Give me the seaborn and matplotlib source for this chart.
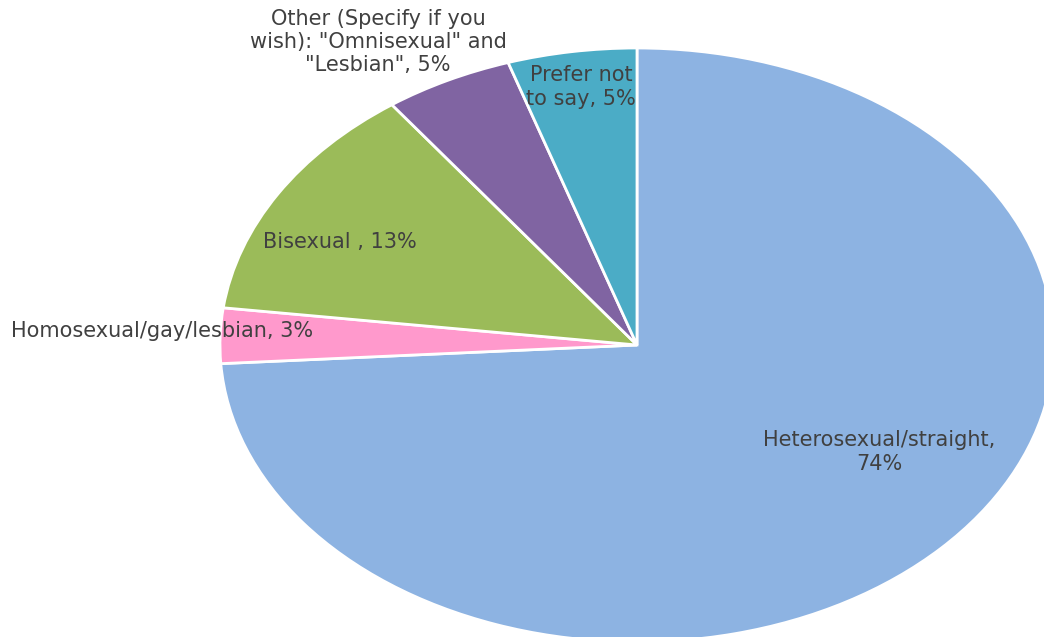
import matplotlib
matplotlib.use("Agg")
import matplotlib.pyplot as plt
import seaborn as sns

# Sexual orientation of respondents (percent), clockwise from 12 o'clock
categories = [
    "Heterosexual/straight",
    "Homosexual/gay/lesbian",
    "Bisexual",
    "Other (Specify if you wish)",
    "Prefer not to say",
]
shares = [74, 3, 13, 5, 5]
labels = [
    "Heterosexual/straight,\n74%",
    "Homosexual/gay/lesbian, 3%",
    "Bisexual , 13%",
    "Other (Specify if you\nwish): \"Omnisexual\" and\n\"Lesbian\", 5%",
    "Prefer not\nto say, 5%",
]
colors = ["#8db3e2", "#ff99cc", "#9bbb59", "#8064a2", "#4bacc6"]

sns.set_theme(style="white")
plt.rcParams["font.family"] = ["DejaVu Sans"]

fig = plt.figure(figsize=(10.44, 6.37), dpi=100)
ax = fig.add_axes([0, 0, 1, 1])

wedges, _ = ax.pie(
    shares,
    colors=colors,
    startangle=90,
    counterclock=False,
    radius=1.0,
    wedgeprops=dict(edgecolor="white", linewidth=2),
)

# stretch the pie into an ellipse and let it run off the right and bottom edges
ax.set_aspect("auto")
W, H = 1044, 637
cx, cy = 637, 345
rx, ry = 417, 297
ax.set_xlim(-cx / rx, (W - cx) / rx)
ax.set_ylim(-(H - cy) / ry, cy / ry)
ax.axis("off")


def px(x, y):
    return (x - cx) / rx, (cy - y) / ry


label_pos = [
    (879, 452),
    (162, 331),
    (340, 242),
    (378, 42),
    (581, 87),
]
for text, (x, y) in zip(labels, label_pos):
    tx, ty = px(x, y)
    ax.text(tx, ty, text, ha="center", va="center", fontsize=15,
            color="#404040", linespacing=1.2, multialignment="center")

fig.savefig("out.png", dpi=100)
